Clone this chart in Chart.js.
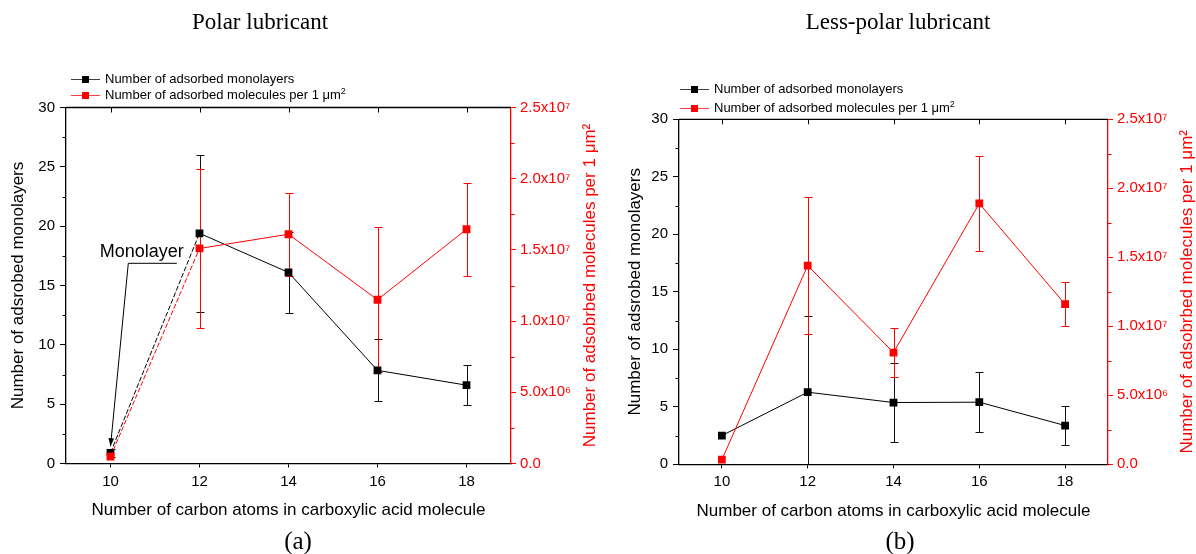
<!DOCTYPE html>
<html>
<head>
<meta charset="utf-8">
<script src="https://cdn.jsdelivr.net/npm/chart.js@4/dist/chart.umd.min.js"></script>
<style>
  body { margin: 0; width: 1196px; height: 554px; background: #fff; position: relative; overflow: hidden;
         font-family: "Liberation Sans", Arial, sans-serif; }
  canvas { position: absolute; top: 0; }
  .ttl { position: absolute; font-family: "Liberation Serif", "Times New Roman", serif; color: #000;
         white-space: nowrap; transform: translate(-50%, -50%); }
  .leg { position: absolute; font-size: 13px; line-height: 16px; white-space: nowrap; color: #000; }
  .leg .mk { display: inline-block; position: relative; width: 29px; height: 16px; vertical-align: top; margin-right: 5px; }
  .leg .mk::before { content: ""; position: absolute; left: 0; right: 0; top: 8px; height: 1px; background: currentColor; opacity: .75; }
  .leg .mk::after { content: ""; position: absolute; left: 11px; top: 5px; width: 7px; height: 7px; background: currentColor; }
  .leg sup { font-size: 9px; line-height: 0; }
</style>
</head>
<body>
<canvas id="chartA" width="600" height="554" style="left:0"></canvas>
<canvas id="chartB" width="596" height="554" style="left:600px"></canvas>

<div class="ttl" style="left:260px; top:22px; font-size:23px">Polar lubricant</div>
<div class="ttl" style="left:898px; top:22px; font-size:23px">Less-polar lubricant</div>
<div class="ttl" style="left:298px; top:541px; font-size:25px">(a)</div>
<div class="ttl" style="left:900px; top:541px; font-size:25px">(b)</div>

<div class="leg" style="left:71px; top:71px"><span class="mk" style="color:#000"></span>Number of adsorbed monolayers</div>
<div class="leg" style="left:71px; top:87px"><span class="mk" style="color:#f00"></span>Number of adsorbed molecules per 1 μm<sup>2</sup></div>
<div class="leg" style="left:680px; top:81px"><span class="mk" style="color:#000"></span>Number of adsorbed monolayers</div>
<div class="leg" style="left:680px; top:100px"><span class="mk" style="color:#f00"></span>Number of adsorbed molecules per 1 μm<sup>2</sup></div>

<script>
const carbonAtoms = [10, 12, 14, 16, 18];

// (a) polar lubricant
const polarMonolayers = [0.9, 19.4, 16.1, 7.85, 6.6];
const polarMonolayersErr = [0.35, 6.6, 3.4, 2.6, 1.7];
const polarMolecules = [0.48e6, 15.1e6, 16.1e6, 11.5e6, 16.45e6];
const polarMoleculesErr = [0, 5.6e6, 2.9e6, 5.1e6, 3.25e6];

// (b) less-polar lubricant
const lessMonolayers = [2.5, 6.27, 5.37, 5.4, 3.37];
const lessMonolayersErr = [0, 6.6, 3.4, 2.6, 1.7];
const lessMolecules = [0.34e6, 14.4e6, 8.1e6, 18.9e6, 11.6e6];
const lessMoleculesErr = [0, 4.95e6, 1.75e6, 3.45e6, 1.6e6];

const xTicks = [10, 12, 14, 16, 18];
const yTicks = [0, 5, 10, 15, 20, 25, 30];
const y1Ticks = [0, 5e6, 1e7, 1.5e7, 2e7, 2.5e7];
const y1TickLabels = ['0.0', '5.0x10⁶', '1.0x10⁷', '1.5x10⁷', '2.0x10⁷', '2.5x10⁷'];

const RED = '#ff0000';
const FONT = '"Liberation Sans", Arial, sans-serif';
Chart.defaults.font.family = FONT;

const toPoints = (ys) => carbonAtoms.map((x, i) => ({ x: x, y: ys[i] }));

// error bars, frame, minor ticks, axis titles and the note
const decor = {
  id: 'decor',
  beforeDatasetsDraw(chart) {
    const ctx = chart.ctx, a = chart.chartArea;
    ctx.save();
    ctx.beginPath();
    ctx.rect(a.left, a.top - 2, a.right - a.left, a.bottom - a.top + 2);
    ctx.clip();
    chart.data.datasets.forEach((ds) => {
      const ys = chart.scales[ds.yAxisID];
      ctx.strokeStyle = ds.errColor;
      ctx.lineWidth = 1;
      ds.data.forEach((p, i) => {
        const e = ds.errors[i];
        if (!e) return;
        const x = Math.round(chart.scales.x.getPixelForValue(p.x)) + 0.5;
        const lo = Math.round(ys.getPixelForValue(p.y - e)) + 0.5;
        const hi = Math.round(ys.getPixelForValue(p.y + e)) + 0.5;
        ctx.beginPath();
        ctx.moveTo(x, lo); ctx.lineTo(x, hi);
        ctx.moveTo(x - 4, lo); ctx.lineTo(x + 4, lo);
        ctx.moveTo(x - 4, hi); ctx.lineTo(x + 4, hi);
        ctx.stroke();
      });
    });
    ctx.restore();
  },
  afterDraw(chart, args, opts) {
    const ctx = chart.ctx, a = chart.chartArea;
    const sx = chart.scales.x, sy = chart.scales.y, sy1 = chart.scales.y1;
    ctx.save();
    // top frame with inward ticks
    ctx.strokeStyle = '#000';
    ctx.lineWidth = 1.3;
    ctx.beginPath();
    ctx.moveTo(a.left, a.top); ctx.lineTo(a.right, a.top);
    ctx.stroke();
    ctx.lineWidth = 1;
    ctx.beginPath();
    xTicks.forEach((v) => {
      const x = Math.round(sx.getPixelForValue(v)) + 0.5;
      ctx.moveTo(x, a.top); ctx.lineTo(x, a.top + 5);
    });
    for (let v = 2.5; v < 30; v += 5) {
      const y = Math.round(sy.getPixelForValue(v)) + 0.5;
      ctx.moveTo(a.left, y); ctx.lineTo(a.left - 3.5, y);
    }
    ctx.stroke();
    ctx.strokeStyle = RED;
    ctx.beginPath();
    for (let v = 2.5e6; v < 2.5e7; v += 5e6) {
      const y = Math.round(sy1.getPixelForValue(v)) + 0.5;
      ctx.moveTo(a.right, y); ctx.lineTo(a.right + 3.5, y);
    }
    ctx.stroke();

    // axis titles
    const midY = (a.top + a.bottom) / 2;
    ctx.font = '17px ' + FONT;
    ctx.textAlign = 'center';
    ctx.textBaseline = 'middle';
    ctx.fillStyle = '#000';
    ctx.fillText('Number of carbon atoms in carboxylic acid molecule', (a.left + a.right) / 2, a.bottom + 47);
    ctx.save();
    ctx.translate(a.left - opts.leftTitle, midY);
    ctx.rotate(-Math.PI / 2);
    ctx.fillText('Number of adsrobed monolayers', 0, 0);
    ctx.restore();
    ctx.save();
    ctx.translate(a.right + opts.rightTitle, midY);
    ctx.rotate(-Math.PI / 2);
    ctx.fillStyle = RED;
    ctx.fillText('Number of adsobrbed molecules per 1 μm²', 0, 0);
    ctx.restore();

    // "Monolayer" note with arrow
    const n = opts.note;
    if (n) {
      const px = (p) => [sx.getPixelForValue(p[0]), sy.getPixelForValue(p[1])];
      const t = px(n.textAt), b0 = px(n.bend[0]), b1 = px(n.bend[1]), tip = px(n.tip);
      ctx.font = '18px ' + FONT;
      ctx.textAlign = 'left';
      ctx.fillStyle = '#000';
      ctx.fillText(n.text, t[0], t[1]);
      ctx.strokeStyle = '#000';
      ctx.lineWidth = 1;
      ctx.beginPath();
      ctx.moveTo(b0[0], b0[1]); ctx.lineTo(b1[0], b1[1]); ctx.lineTo(tip[0], tip[1]);
      ctx.stroke();
      const ang = Math.atan2(tip[1] - b1[1], tip[0] - b1[0]);
      ctx.beginPath();
      ctx.moveTo(tip[0], tip[1]);
      ctx.lineTo(tip[0] - 8 * Math.cos(ang) + 2.8 * Math.sin(ang), tip[1] - 8 * Math.sin(ang) - 2.8 * Math.cos(ang));
      ctx.lineTo(tip[0] - 8 * Math.cos(ang) - 2.8 * Math.sin(ang), tip[1] - 8 * Math.sin(ang) + 2.8 * Math.cos(ang));
      ctx.closePath();
      ctx.fill();
    }
    ctx.restore();
  }
};

function makeChart(id, monolayers, monoErr, molecules, molErr, box) {
  const firstDash = (c) => (box.dashFirst && c.p0DataIndex === 0 ? [5, 2] : undefined);
  return new Chart(document.getElementById(id), {
    type: 'line',
    data: {
      datasets: [
        {
          label: 'Number of adsorbed monolayers',
          data: toPoints(monolayers),
          errors: monoErr,
          errColor: '#111',
          yAxisID: 'y',
          borderColor: '#000',
          backgroundColor: '#000',
          borderWidth: 1,
          pointStyle: 'rect',
          pointRadius: 5.5,
          pointBorderWidth: 0,
          tension: 0,
          order: 2,
          segment: { borderDash: firstDash },
        },
        {
          label: 'Number of adsorbed molecules per 1 μm²',
          data: toPoints(molecules),
          errors: molErr,
          errColor: RED,
          yAxisID: 'y1',
          borderColor: RED,
          backgroundColor: RED,
          borderWidth: 1,
          pointStyle: 'rect',
          pointRadius: 5.5,
          pointBorderWidth: 0,
          tension: 0,
          order: 1,
          segment: { borderDash: firstDash },
        },
      ],
    },
    options: {
      responsive: false,
      animation: false,
      devicePixelRatio: 1,
      layout: { padding: { top: box.top, left: 0, right: 0, bottom: 0 } },
      plugins: {
        legend: { display: false },
        tooltip: { enabled: false },
        decor: { leftTitle: box.leftTitle, rightTitle: 79, note: box.note },
      },
      scales: {
        x: {
          type: 'linear',
          min: 9,
          max: 19,
          afterBuildTicks: (s) => { s.ticks = xTicks.map((v) => ({ value: v })); },
          afterFit: (s) => { s.height = box.xHeight; },
          ticks: { color: '#000', font: { size: 15 }, padding: 5, maxRotation: 0 },
          grid: { drawOnChartArea: false, tickLength: 4, color: '#000', tickWidth: 1 },
          border: { color: '#000', width: 1.3 },
        },
        y: {
          type: 'linear',
          position: 'left',
          min: 0,
          max: 30,
          afterBuildTicks: (s) => { s.ticks = yTicks.map((v) => ({ value: v })); },
          afterFit: (s) => { s.width = box.yWidth; },
          ticks: { color: '#000', font: { size: 15 }, padding: 5 },
          grid: { drawOnChartArea: false, tickLength: 6, color: '#000', tickWidth: 1 },
          border: { color: '#000', width: 1.3 },
        },
        y1: {
          type: 'linear',
          position: 'right',
          min: 0,
          max: 2.5e7,
          afterBuildTicks: (s) => { s.ticks = y1Ticks.map((v) => ({ value: v })); },
          afterFit: (s) => { s.width = box.y1Width; },
          ticks: {
            color: RED,
            font: { size: 15 },
            padding: 4,
            callback: (v) => y1TickLabels[y1Ticks.indexOf(v)],
          },
          grid: { drawOnChartArea: false, tickLength: 5, color: RED, tickWidth: 1 },
          border: { color: RED, width: 1.3 },
        },
      },
    },
    plugins: [decor],
  });
}

makeChart('chartA', polarMonolayers, polarMonolayersErr, polarMolecules, polarMoleculesErr, {
  top: 107.5, xHeight: 90.5, yWidth: 66, y1Width: 89, leftTitle: 48, dashFirst: true,
  note: { text: 'Monolayer', textAt: [9.76, 17.85], bend: [[11.49, 16.87], [10.4, 16.87]], tip: [10, 1.45] },
});
makeChart('chartB', lessMonolayers, lessMonolayersErr, lessMolecules, lessMoleculesErr, {
  top: 119.3, xHeight: 89.7, yWidth: 79, y1Width: 88, leftTitle: 44, dashFirst: false, note: null,
});
</script>
</body>
</html>
